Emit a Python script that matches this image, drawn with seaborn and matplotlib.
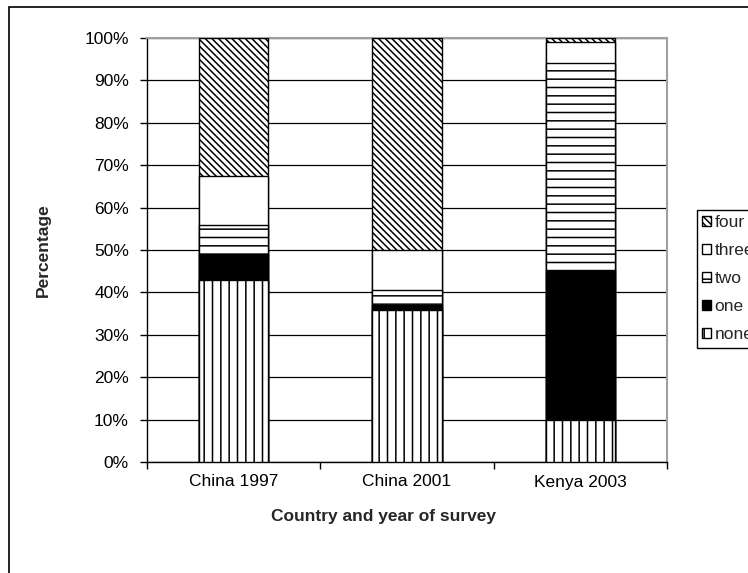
import numpy as np
import pandas as pd
import matplotlib
matplotlib.use("Agg")
import matplotlib.pyplot as plt
import seaborn as sns
from matplotlib.patches import Patch, Rectangle
from matplotlib.ticker import PercentFormatter, MultipleLocator

# ── data (percent of households) ──
surveys = ["China 1997", "China 2001", "Kenya 2003"]
levels = ["none", "one", "two", "three", "four"]
none_pct = [43.0, 35.8, 10.0]
one_pct = [6.0, 1.2, 35.3]
two_pct = [7.0, 3.5, 48.7]
three_pct = [11.5, 9.5, 5.0]
four_pct = [32.5, 50.0, 1.0]

# fill colour + hatch for each level (Excel style b/w patterns)
fills = {"none": "white", "one": "black", "two": "white", "three": "white", "four": "white"}
hatches = {"none": "||", "one": "", "two": "--", "three": "", "four": "\\" * 5}

rows = []
for i, s in enumerate(surveys):
    vals = [none_pct[i], one_pct[i], two_pct[i], three_pct[i], four_pct[i]]
    cum = np.cumsum(vals)
    for lvl, v, c in zip(levels, vals, cum):
        rows.append({"survey": s, "level": lvl, "pct": v, "cum": c})
df = pd.DataFrame(rows)

sns.set_theme(style="ticks")
plt.rcParams["font.family"] = ["Liberation Sans", "DejaVu Sans"]
plt.rcParams["hatch.linewidth"] = 1.1

W, H = 748, 573
fig = plt.figure(figsize=(W / 100, H / 100), dpi=100)
left, right, top, bottom = 147, 667, 38, 462
ax = fig.add_axes([left / W, 1 - bottom / H, (right - left) / W, (bottom - top) / H])

# stacked bars: draw cumulative totals from the top layer down
for lvl in reversed(levels):
    sub = df[df["level"] == lvl]
    sns.barplot(data=sub, x="survey", y="cum", order=surveys, color=fills[lvl],
                saturation=1, width=0.4, edgecolor="black", linewidth=1.0,
                hatch=hatches[lvl], errorbar=None, ax=ax, zorder=3)

ax.set_ylim(0, 100)
ax.set_xlim(-0.5, 2.5)
ax.yaxis.set_major_locator(MultipleLocator(10))
ax.yaxis.set_major_formatter(PercentFormatter(decimals=0))
ax.grid(axis="y", color="black", linewidth=0.9)
ax.set_axisbelow(True)
ax.set_xlabel("")
ax.set_ylabel("")

ax.set_xticks([0, 1, 2])
ax.set_xticklabels(surveys)
ax.set_xticks([-0.5, 0.5, 1.5, 2.5], minor=True)
ax.tick_params(axis="x", which="major", length=0, pad=9, labelsize=12.5, colors="black")
ax.tick_params(axis="x", which="minor", length=5, width=1, color="black")
ax.tick_params(axis="y", length=5, width=1, pad=8, labelsize=12.5, colors="black", left=True)

for side in ["left", "bottom"]:
    ax.spines[side].set_color("black")
    ax.spines[side].set_linewidth(1.0)
for side in ["top", "right"]:
    ax.spines[side].set_visible(True)
    ax.spines[side].set_color("#a0a0a0")
    ax.spines[side].set_linewidth(1.5)

fig.text(43 / W, 1 - 250 / H, "Percentage", rotation=90, ha="center", va="center",
         fontsize=12.5, fontweight="bold")
fig.text(383 / W, 1 - 517 / H, "Country and year of survey",
         ha="center", va="center", fontsize=12.5, fontweight="bold")

# legend, top layer first as in Excel
handles = [Patch(facecolor=fills[l], edgecolor="black", hatch=hatches[l], linewidth=1.0)
           for l in reversed(levels)]
leg = fig.legend(handles, list(reversed(levels)), loc="upper left",
                 bbox_to_anchor=(697 / W, 1 - 210 / H), frameon=True, fancybox=False,
                 edgecolor="black", framealpha=1, fontsize=12.5, handlelength=0.5,
                 handleheight=0.5, handletextpad=0.2, labelspacing=0.75, borderpad=0.3,
                 borderaxespad=0)
leg.get_frame().set_linewidth(1.0)

# outer chart border (cut off at right and bottom)
fig.patches.append(Rectangle((9 / W, -0.1), 2, 1 - 6.7 / H + 0.1, transform=fig.transFigure,
                             fill=False, edgecolor="black", linewidth=1.2))

fig.savefig("out.png", dpi=100)
